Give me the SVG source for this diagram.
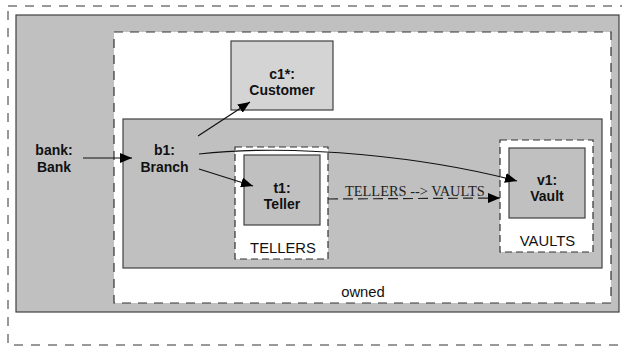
<svg xmlns="http://www.w3.org/2000/svg" width="622" height="347" viewBox="0 0 622 347">
<style>
.outer{fill:#ffffff;stroke:#333333;stroke-width:1;stroke-dasharray:9 8}
.own{fill:#ffffff;stroke:#333333;stroke-width:1.2;stroke-dasharray:9 7}
.part{fill:#ffffff;stroke:#333333;stroke-width:1.2;stroke-dasharray:7 4}
.gray{fill:#c0c0c0;stroke:#404040;stroke-width:1.2}
.light{fill:#d4d4d4;stroke:#404040;stroke-width:1.2}
.b{font-family:"Liberation Sans",Arial,sans-serif;font-weight:bold;font-size:14px;fill:#111111;text-anchor:middle}
.r{font-family:"Liberation Sans",Arial,sans-serif;font-size:14.8px;fill:#111111;text-anchor:middle}
.s{font-family:"Liberation Serif","Times New Roman",serif;font-size:14.4px;fill:#222222}
.ln{fill:none;stroke:#111111;stroke-width:1.2}
.dl{fill:none;stroke:#222222;stroke-width:1.2;stroke-dasharray:10 5}
</style>
<defs>
<marker id="ah" viewBox="0 0 12 10" refX="12" refY="5" markerWidth="12" markerHeight="10" markerUnits="userSpaceOnUse" orient="auto">
<path d="M0,0 L12,5 L0,10 Z" fill="#000000"/>
</marker>
</defs>
<rect x="0" y="0" width="622" height="347" fill="#ffffff"/>
<g id="frame">
<rect class="outer" x="8" y="6" width="620" height="339"/>
</g>
<g id="bank">
<rect class="gray" x="16" y="15" width="603" height="297"/>
<text class="b" x="54" y="155">bank:</text>
<text class="b" x="54" y="172">Bank</text>
</g>
<g id="owned">
<rect class="own" x="114" y="32" width="497" height="271"/>
<text class="r" x="363" y="297">owned</text>
</g>
<g id="c1">
<rect class="light" x="231" y="41" width="102" height="69"/>
<text class="b" x="282" y="79">c1*:</text>
<text class="b" x="282" y="95">Customer</text>
</g>
<g id="b1">
<rect class="gray" x="123" y="119" width="479" height="149"/>
<text class="b" x="164.5" y="155">b1:</text>
<text class="b" x="164.5" y="172">Branch</text>
</g>
<g id="tellers">
<rect class="part" x="235" y="147" width="93" height="112"/>
<text class="r" x="283" y="252.5">TELLERS</text>
</g>
<g id="t1">
<rect class="gray" x="244" y="155" width="76" height="70"/>
<text class="b" x="282" y="193">t1:</text>
<text class="b" x="282" y="209">Teller</text>
</g>
<g id="vaults">
<rect class="part" x="500" y="140" width="93" height="112"/>
<text class="r" x="547.5" y="246">VAULTS</text>
</g>
<g id="v1">
<rect class="gray" x="509" y="148" width="76" height="70"/>
<text class="b" x="547" y="185">v1:</text>
<text class="b" x="547" y="201">Vault</text>
</g>
<g id="connectors">
<line class="ln" x1="83" y1="158" x2="132" y2="158" marker-end="url(#ah)"/>
<line class="ln" x1="198" y1="136" x2="250" y2="102" marker-end="url(#ah)"/>
<line class="ln" x1="199" y1="169" x2="253" y2="186" marker-end="url(#ah)"/>
<path class="ln" d="M199,154 C300,143 430,158 517,181" marker-end="url(#ah)"/>
<line class="dl" x1="328" y1="199" x2="500" y2="198" marker-end="url(#ah)"/>
<text class="s" x="345" y="196">TELLERS --&gt; VAULTS</text>
</g>
</svg>
